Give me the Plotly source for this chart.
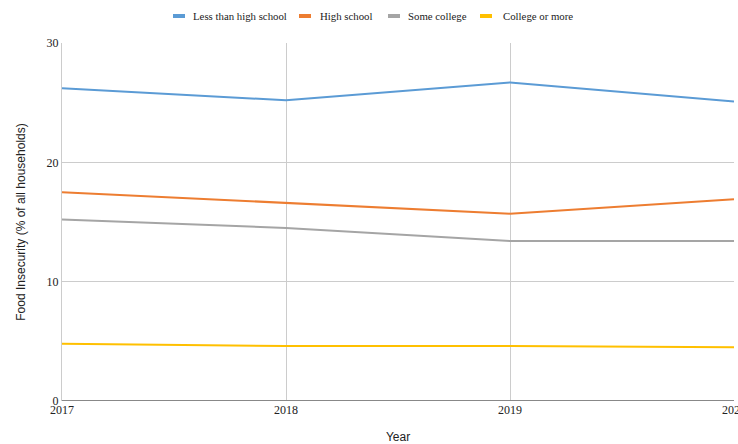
import plotly.graph_objects as go

years = [2017, 2018, 2019, 2020]
series_names = ["Less than high school", "High school", "Some college", "College or more"]
less_than_hs = [26.2, 25.2, 26.7, 25.1]
high_school = [17.5, 16.6, 15.7, 16.9]
some_college = [15.2, 14.5, 13.4, 13.4]
college_more = [4.8, 4.6, 4.6, 4.5]
colors = ["#5B9BD5", "#ED7D31", "#A5A5A5", "#FFC000"]
y_ticks = [0, 10, 20, 30]

W, H = 738, 444
ML, MR, MT, MB = 62, 4, 43, 43
PW, PH = W - ML - MR, H - MT - MB

fig = go.Figure()
for name, vals, c in zip(series_names, [less_than_hs, high_school, some_college, college_more], colors):
    fig.add_trace(go.Scatter(x=years, y=vals, mode="lines", name=name,
                             line=dict(color=c, width=2), showlegend=False))

serif = "Liberation Serif"
sans = "Liberation Sans"

# custom legend (symbol centre, text start in pixels)
legend_sym_x = [179, 305, 394, 486]
legend_txt_x = [191, 318, 406, 501]
legend_y_px = 16
ly = 1 + (MT - legend_y_px) / PH
for name, c, sx, tx in zip(series_names, colors, legend_sym_x, legend_txt_x):
    fig.add_shape(type="line", xref="paper", yref="paper",
                  x0=(sx - 6 - ML) / PW, x1=(sx + 6 - ML) / PW, y0=ly, y1=ly,
                  line=dict(color=c, width=4))
    fig.add_annotation(text=name, xref="paper", yref="paper", x=(tx - ML) / PW, y=ly,
                       xanchor="left", yanchor="middle", showarrow=False,
                       font=dict(family=serif, size=10.8, color="#222222"))

fig.update_layout(
    width=W, height=H,
    margin=dict(l=ML, r=MR, t=MT, b=MB),
    plot_bgcolor="white", paper_bgcolor="white",
    font=dict(family=serif, size=12, color="#333333"),
    showlegend=False,
    xaxis=dict(range=[2017, 2020], tickvals=years, ticktext=[str(y) for y in years],
               showgrid=True, gridcolor="#CCCCCC", gridwidth=1, automargin=False,
               showline=False, zeroline=False, ticks="", ticklabeloverflow="allow",
               tickfont=dict(family=serif, size=12, color="#222222"),
               title=dict(text="Year", font=dict(family=sans, size=12, color="#222222"), standoff=22)),
    yaxis=dict(range=[0, 30], tickvals=y_ticks, showgrid=True, gridcolor="#CCCCCC", gridwidth=1,
               zeroline=False, showline=True, linecolor="#CCCCCC", linewidth=1, ticks="",
               automargin=False,
               tickfont=dict(family=serif, size=12, color="#222222"),
               title=dict(text="Food Insecurity (% of all households)",
                          font=dict(family=sans, size=12, color="#222222"), standoff=18)),
)
fig.add_shape(type="line", xref="paper", yref="y", x0=0, x1=1, y0=0, y1=0,
              line=dict(color="#888888", width=2))
fig.write_html("out.html")
